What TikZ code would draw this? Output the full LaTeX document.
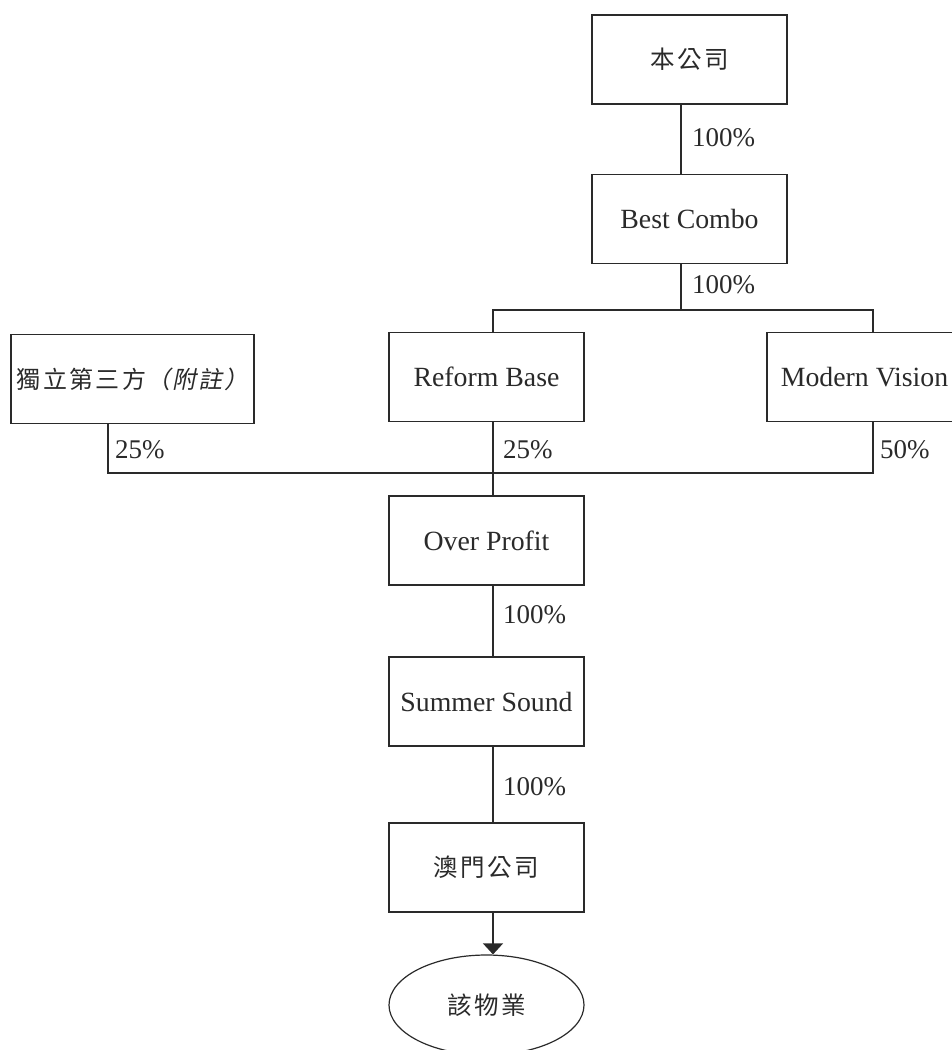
\documentclass[tikz,border=0pt]{standalone}
\usepackage{fontspec}
\setmainfont{Liberation Serif}
\newfontfamily\cjk{Noto Sans CJK TC}[LetterSpace=10]
\newfontfamily\cjkit{Noto Sans CJK TC}[LetterSpace=8,FakeSlant=0.2]
\usetikzlibrary{arrows.meta,shapes.geometric}
\definecolor{ink}{HTML}{2A2A2A}
\begin{document}
\begin{tikzpicture}[x=1pt,y=-1pt,
  every node/.style={text=ink},
  box/.style={draw=ink,line width=1.2pt,minimum width=195pt,minimum height=89pt,inner sep=0pt,font=\fontsize{27.8}{32}\selectfont},
  cjkbox/.style={box,font=\fontsize{24.5}{30}\selectfont\cjk},
  pct/.style={anchor=west,inner sep=0pt,font=\fontsize{27}{32}\selectfont},
  conn/.style={draw=ink,line width=1.2pt}]
\useasboundingbox (0,0) rectangle (951,1050);
\node[cjkbox] (top) at (689.5,59.5) {本公司};
\node[box] (best) at (689.5,219) {Best Combo};
\node[box] (reform) at (486.5,377) {Reform Base};
\node[box] (modern) at (864.5,377) {Modern Vision};
\node[cjkbox,minimum width=243pt,font=\fontsize{24}{30}\selectfont\cjk] (indep) at (132.5,379) {獨立第三方{\cjkit （附註）}};
\node[box] (over) at (486.5,540.5) {Over Profit};
\node[box] (summer) at (486.5,701.5) {Summer Sound};
\node[cjkbox] (macau) at (486.5,867.5) {澳門公司};
\node[draw=ink,line width=1.2pt,ellipse,minimum width=195pt,minimum height=100pt,inner sep=0pt,font=\fontsize{24.5}{30}\selectfont\cjk] (prop) at (486.5,1005) {該物業};
\coordinate (j1) at (681,310);
\coordinate (j2) at (493,473);
\draw[conn] ([xshift=-8.5pt]top.south) -- ([xshift=-8.5pt]best.north);
\draw[conn] ([xshift=-8.5pt]best.south) -- (j1);
\draw[conn] ([xshift=6.5pt]reform.north) |- (j1) -| ([xshift=8.5pt]modern.north);
\draw[conn] ([xshift=-24.5pt]indep.south) |- (j2) -| ([xshift=8.5pt]modern.south);
\draw[conn] ([xshift=6.5pt]reform.south) -- ([xshift=6.5pt]over.north);
\draw[conn] ([xshift=6.5pt]over.south) -- ([xshift=6.5pt]summer.north);
\draw[conn] ([xshift=6.5pt]summer.south) -- ([xshift=6.5pt]macau.north);
\draw[conn,-{Triangle[length=11pt,width=20pt]}] ([xshift=6.5pt]macau.south) -- ([xshift=6.5pt]prop.north);
\node[pct] (p1) at (692,138) {100\%};
\node[pct] (p2) at (692,285) {100\%};
\node[pct] (p3) at (115,450) {25\%};
\node[pct] (p4) at (503,450) {25\%};
\node[pct] (p5) at (880,450) {50\%};
\node[pct] (p6) at (503,615) {100\%};
\node[pct] (p7) at (503,787) {100\%};
\end{tikzpicture}
\end{document}
